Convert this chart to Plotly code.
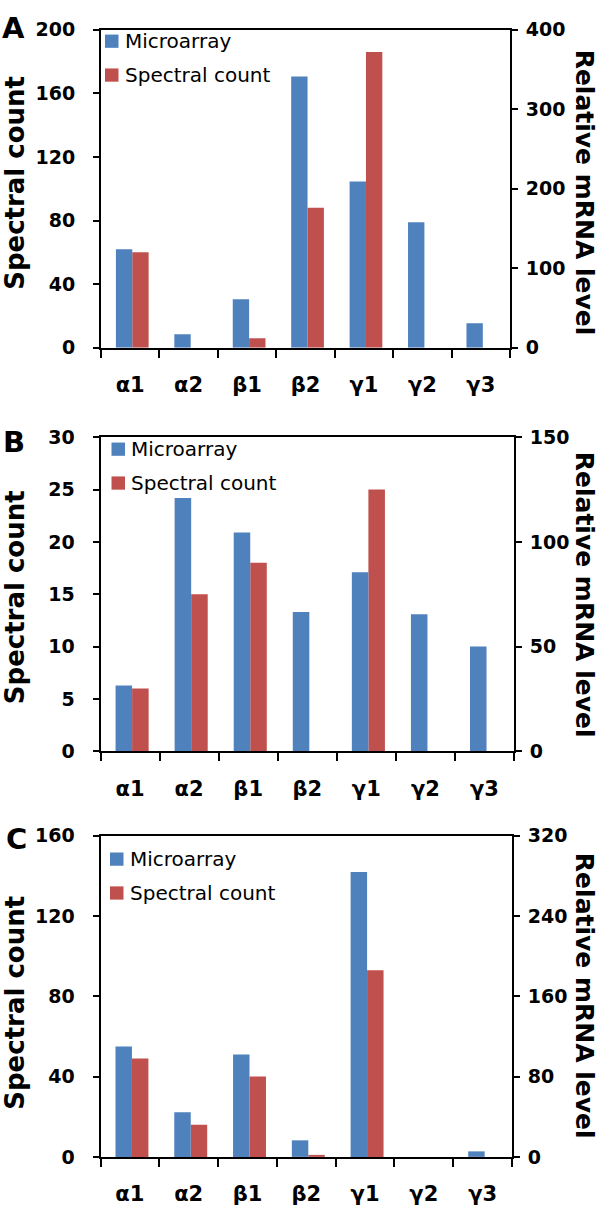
import plotly.graph_objects as go

# ---------------- data ----------------
categories = ["α1", "α2", "β1", "β2", "γ1", "γ2", "γ3"]

# Microarray -> right axis (Relative mRNA level); Spectral count -> left axis
a_microarray = [124, 17, 61, 341, 209, 158, 31]
a_spectral = [60, 0, 6, 88, 186, 0, 0]

b_microarray = [31.5, 121, 104.5, 66.5, 85.5, 65.5, 50]
b_spectral = [6, 15, 18, 0, 25, 0, 0]

c_microarray = [110, 44.5, 102, 16.5, 284, 0, 5.5]
c_spectral = [49, 16, 40, 1, 93, 0, 0]

panel_letters = ["A", "B", "C"]
left_ranges = [[0, 200], [0, 30], [0, 160]]
left_dticks = [40, 5, 40]
right_ranges = [[0, 400], [0, 150], [0, 320]]
right_dticks = [100, 50, 80]
legend_labels = ["Microarray", "Spectral count"]
left_title = "Spectral count"
right_title = "Relative mRNA level"

microarray_series = [a_microarray, b_microarray, c_microarray]
spectral_series = [a_spectral, b_spectral, c_spectral]

# ---------------- style / layout ----------------
W, H = 600, 1216
BLUE = "#4F81BD"
RED = "#C0504D"
BOLD = "DejaVu Sans"

# plot-area pixel boxes: (left, right, top, bottom)
panel_px = [(101, 510, 19, 343), (100.5, 514, 434, 754), (100.5, 512, 840, 1167)]
letter_px = [(13, 17), (14, 439), (16, 843)]
left_title_y = [175, 597, 1010]
right_title_y = [185, 594.5, 1003]
legend_px = [(105, 24), (111.5, 439.5), (110, 857)]


def px(x):
    return x / W


def py(y):
    return 1 - y / H


fig = go.Figure()
layout = dict(
    width=W, height=H, autosize=False,
    margin=dict(l=0, r=0, t=0, b=0),
    plot_bgcolor="white", paper_bgcolor="white",
    showlegend=False,
    shapes=[], annotations=[],
)

for i in range(3):
    l, r, t, b = panel_px[i]
    xid = "x" if i == 0 else f"x{i + 1}"
    xkey = "xaxis" if i == 0 else f"xaxis{i + 1}"
    ly = 2 * i + 1
    ry = 2 * i + 2
    lyid = "y" if ly == 1 else f"y{ly}"
    ryid = f"y{ry}"
    lykey = "yaxis" if ly == 1 else f"yaxis{ly}"
    rykey = f"yaxis{ry}"

    layout[xkey] = dict(
        domain=[px(l), px(r)], anchor=lyid, type="category",
        range=[-0.5, 6.5], showline=True, mirror=True,
        linecolor="black", linewidth=2,
        ticks="outside", tickson="boundaries", ticklen=8, tickwidth=2,
        tickcolor="black", showgrid=False, zeroline=False,
        tickfont=dict(family=BOLD, size=21, color="black", weight="bold"),
        ticklabelstandoff=17,
    )
    common_y = dict(
        domain=[py(b), py(t)], anchor=xid, showline=True,
        linecolor="black", linewidth=2, ticks="outside", ticklen=6,
        tickwidth=2, tickcolor="black", showgrid=False, zeroline=False,
        tickfont=dict(family=BOLD, size=19, color="black", weight="bold"),
        tick0=0,
    )
    layout[lykey] = dict(common_y, range=left_ranges[i], dtick=left_dticks[i],
                         side="left", ticklabelstandoff=14)
    layout[rykey] = dict(common_y, range=right_ranges[i], dtick=right_dticks[i],
                         side="right", overlaying=lyid, ticklabelstandoff=4)

    fig.add_trace(go.Bar(
        x=categories, y=microarray_series[i], xaxis=xid, yaxis=ryid,
        marker=dict(color=BLUE, line=dict(width=0)),
        width=0.28, offset=-0.245, name=legend_labels[0],
    ))
    fig.add_trace(go.Bar(
        x=categories, y=spectral_series[i], xaxis=xid, yaxis=lyid,
        marker=dict(color=RED, line=dict(width=0)),
        width=0.28, offset=0.035, name=legend_labels[1],
    ))

    # panel letter
    lx, lyy = letter_px[i]
    layout["annotations"].append(dict(
        text=panel_letters[i], x=px(lx), y=py(lyy), xref="paper", yref="paper",
        xanchor="center", yanchor="middle", showarrow=False,
        font=dict(family=BOLD, size=29, color="black", weight="bold"),
    ))
    # axis titles
    layout["annotations"].append(dict(
        text=left_title, x=px(15), y=py(left_title_y[i]), xref="paper", yref="paper",
        xanchor="center", yanchor="middle", showarrow=False, textangle=-90,
        font=dict(family=BOLD, size=26, color="black", weight="bold"),
    ))
    layout["annotations"].append(dict(
        text=right_title, x=px(584), y=py(right_title_y[i]), xref="paper", yref="paper",
        xanchor="center", yanchor="middle", showarrow=False, textangle=90,
        font=dict(family=BOLD, size=25, color="black", weight="bold"),
    ))
    # legend
    gx, gy = legend_px[i]
    sq = 13.5
    for k, col in enumerate([BLUE, RED]):
        y0 = gy + k * 34.5
        layout["shapes"].append(dict(
            type="rect", xref="paper", yref="paper",
            x0=px(gx), x1=px(gx + sq), y0=py(y0 + sq), y1=py(y0),
            fillcolor=col, line=dict(width=0),
        ))
        layout["annotations"].append(dict(
            text=legend_labels[k], x=px(gx + sq + 4), y=py(y0 + sq / 2),
            xref="paper", yref="paper", xanchor="left", yanchor="middle",
            showarrow=False, font=dict(family="DejaVu Sans", size=20, color="black"),
        ))

fig.update_layout(**layout)

fig.write_html("out.html", config={"displayModeBar": False},
               post_script="document.body.style.margin='0px';")
